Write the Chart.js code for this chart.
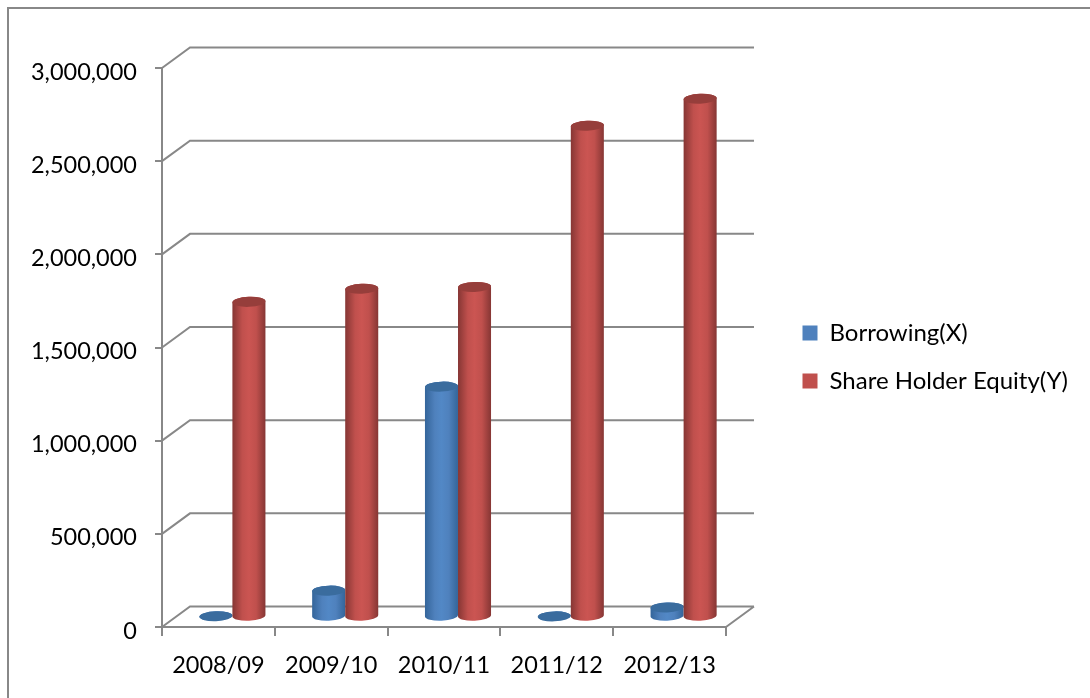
<!DOCTYPE html>
<html>
<head>
<meta charset="utf-8">
<title>Borrowing and Share Holder Equity</title>
<script src="https://cdn.jsdelivr.net/npm/chart.js@4/dist/chart.umd.min.js"></script>
<style>
  html, body { margin: 0; padding: 0; background: #fff; overflow: hidden; }
  #wrap { width: 1090px; height: 698px; }
</style>
</head>
<body>
<div id="wrap"><canvas id="chart" width="1090" height="698"></canvas></div>
<script>
const categories = ['2008/09', '2009/10', '2010/11', '2011/12', '2012/13'];
const borrowing = [3000, 140000, 1235000, 2000, 50000];
const equity = [1690000, 1760000, 1770000, 2635000, 2780000];
const seriesNames = ['Borrowing(X)', 'Share Holder Equity(Y)'];

const axisGray = '#888888';
const textFont = 'Lato, Carlito, sans-serif';
const depthX = 28;
const depthY = 20.5;

// red bars sit in front of the blue ones, so both are painted here in series order
const looks = [
  { top: '#3a6c9e', edge: '#34659a', mid: '#4f81bd', light: '#5288c6' },
  { top: '#963e3b', edge: '#863634', mid: '#c0504d', light: '#cb5552' }
];

function drawCylinder(ctx, bar, look) {
  const cx = bar.x + depthX / 2;
  const rx = bar.width / 2;
  const ry = 5;
  const tilt = -0.04;
  const topY = bar.y - depthY / 2;
  const baseY = bar.base - depthY / 2;

  const grad = ctx.createLinearGradient(cx - rx, 0, cx + rx, 0);
  grad.addColorStop(0, look.edge);
  grad.addColorStop(0.3, look.mid);
  grad.addColorStop(0.5, look.light);
  grad.addColorStop(0.72, look.mid);
  grad.addColorStop(1, look.edge);

  ctx.beginPath();
  ctx.ellipse(cx, baseY, rx, ry, tilt, 0, Math.PI);
  ctx.ellipse(cx, topY, rx, ry, tilt, Math.PI, Math.PI * 2);
  ctx.closePath();
  ctx.fillStyle = grad;
  ctx.fill();

  ctx.beginPath();
  ctx.ellipse(cx, topY, rx, ry, tilt, 0, Math.PI * 2);
  ctx.fillStyle = look.top;
  ctx.fill();
}

const frame3d = {
  id: 'frame3d',
  afterLayout(chart) {
    // legend keeps its own size but sits further right than the layout puts it
    const lg = chart.legend;
    lg.left = 778.5;
    lg.right = 1090;
    lg.top -= 26;
    lg.bottom -= 26;
  },
  beforeDraw(chart) {
    const ctx = chart.ctx;
    ctx.save();
    ctx.strokeStyle = axisGray;
    ctx.lineWidth = 2;
    ctx.beginPath();
    ctx.moveTo(8, 698);
    ctx.lineTo(8, 8);
    ctx.lineTo(1090, 8);
    ctx.stroke();

    const y = chart.scales.y;
    const area = chart.chartArea;
    ctx.beginPath();
    y.ticks.forEach((t, i) => {
      const py = y.getPixelForTick(i);
      ctx.moveTo(area.left, py);
      ctx.lineTo(area.left + depthX, py - depthY);
      ctx.lineTo(area.right + depthX, py - depthY);
    });
    ctx.moveTo(area.right, y.getPixelForValue(0));
    ctx.lineTo(area.right + depthX, y.getPixelForValue(0) - depthY);
    ctx.stroke();
    ctx.restore();
  },
  beforeDatasetDraw() {
    return false;
  },
  afterDatasetsDraw(chart) {
    const ctx = chart.ctx;
    ctx.save();
    [0, 1].forEach(i => {
      chart.getDatasetMeta(i).data.forEach(bar => drawCylinder(ctx, bar, looks[i]));
    });
    ctx.restore();
  }
};

new Chart(document.getElementById('chart'), {
  type: 'bar',
  data: {
    labels: categories,
    datasets: [
      { label: seriesNames[0], data: borrowing, backgroundColor: '#4f81bd' },
      { label: seriesNames[1], data: equity, backgroundColor: '#c0504d' }
    ]
  },
  plugins: [frame3d],
  options: {
    responsive: false,
    animation: false,
    datasets: { bar: { categoryPercentage: 0.586, barPercentage: 1 } },
    layout: { padding: { top: 68, right: 122, bottom: 0, left: 0 } },
    plugins: {
      tooltip: { enabled: false },
      legend: {
        position: 'right',
        labels: {
          color: '#000',
          font: { family: textFont, size: 24 },
          boxWidth: 15,
          boxHeight: 15,
          padding: 24
        }
      }
    },
    scales: {
      x: {
        afterFit(s) { s.height = 71; },
        grid: { drawOnChartArea: false, color: axisGray, lineWidth: 2, tickLength: 9 },
        border: { color: axisGray, width: 2 },
        ticks: { color: '#000', font: { family: textFont, size: 23.5 }, padding: 15, maxRotation: 0 }
      },
      y: {
        min: 0,
        max: 3000000,
        afterFit(s) { s.width = 162; },
        grid: { drawOnChartArea: false, color: axisGray, lineWidth: 2, tickLength: 7 },
        border: { color: axisGray, width: 2 },
        ticks: {
          stepSize: 500000,
          color: '#000',
          font: { family: textFont, size: 23.5 },
          padding: 18,
          labelOffset: 4,
          callback: v => v.toLocaleString('en-US')
        }
      }
    }
  }
});
</script>
</body>
</html>
